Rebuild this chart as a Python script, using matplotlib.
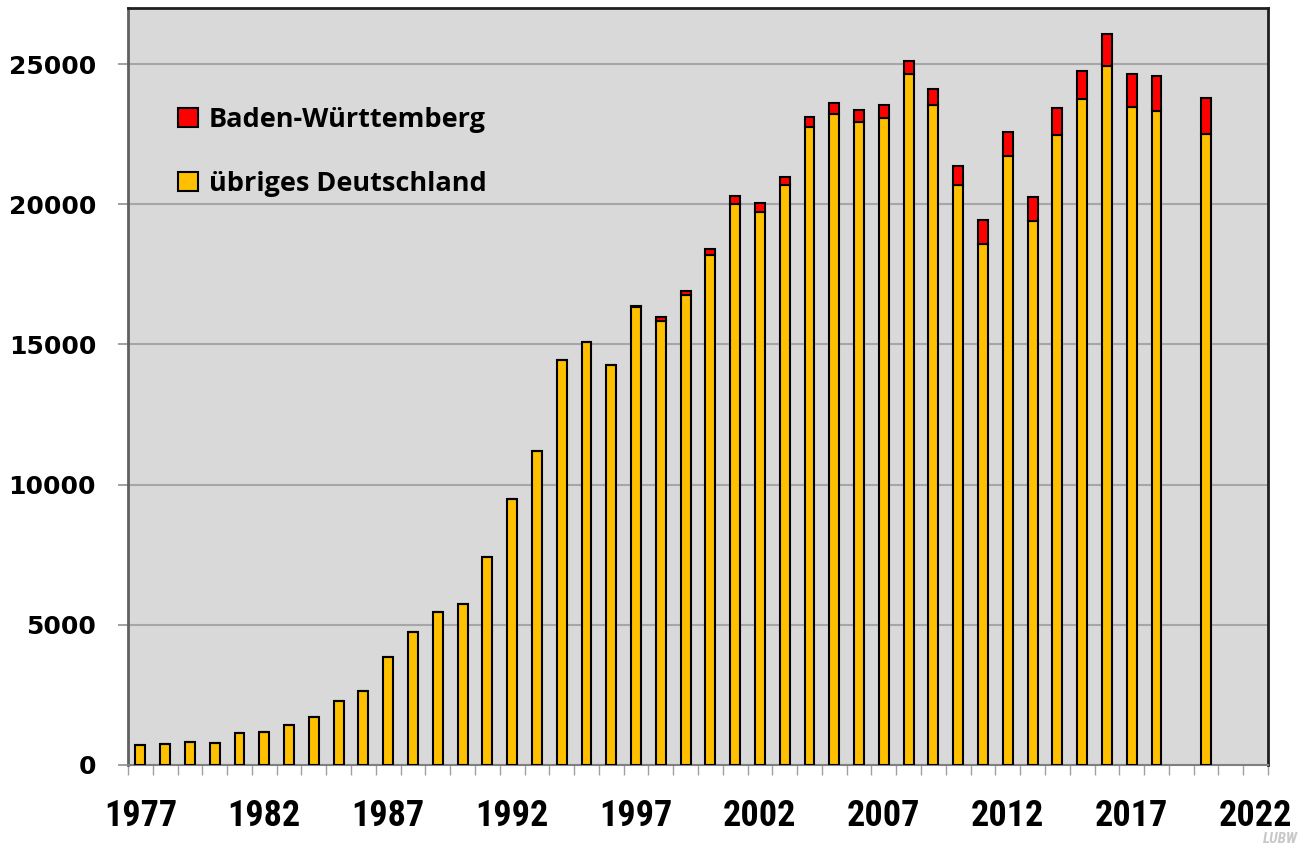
import matplotlib
matplotlib.use('Agg')
import matplotlib.pyplot as plt
from matplotlib.patches import Patch
import numpy as np

years = [1977, 1978, 1979, 1980, 1981, 1982, 1983, 1984, 1985, 1986,
         1987, 1988, 1989, 1990, 1991, 1992, 1993, 1994, 1995, 1996,
         1997, 1998, 1999, 2000, 2001, 2002, 2003, 2004, 2005, 2006,
         2007, 2008, 2009, 2010, 2011, 2012, 2013, 2014, 2015, 2016,
         2017, 2018, 2020]
# übriges Deutschland
rest = [700, 750, 810, 780, 1140, 1165, 1415, 1700, 2270, 2650,
        3850, 4730, 5450, 5740, 7430, 9500, 11210, 14450, 15080, 14250,
        16330, 15840, 16750, 18180, 20010, 19740, 20670, 22760, 23220, 22930,
        23080, 24660, 23540, 20670, 18570, 21730, 19420, 22480, 23740, 24930,
        23480, 23320, 22490]
# Baden-Württemberg
bw = [0, 0, 0, 0, 0, 0, 0, 0, 0, 0,
      0, 0, 0, 0, 0, 0, 0, 0, 0, 0,
      40, 140, 170, 240, 280, 300, 320, 360, 400, 420,
      460, 450, 580, 680, 880, 860, 840, 970, 1010, 1140,
      1160, 1240, 1300]
label_years = [1977, 1982, 1987, 1992, 1997, 2002, 2007, 2012, 2017, 2022]
y_ticks = [0, 5000, 10000, 15000, 20000, 25000]

yellow = '#FFC000'
red = '#FF0000'
narrow = ['Roboto Condensed', 'Liberation Sans Narrow', 'Liberation Sans', 'DejaVu Sans']

fig = plt.figure(figsize=(13.04, 8.48), dpi=100)
ax = fig.add_axes([128 / 1304, 1 - 765 / 848, 1140 / 1304, 757 / 848])
ax.set_facecolor('#D9D9D9')

ax.bar(years, rest, width=0.4, color=yellow, edgecolor='black', linewidth=1.5, zorder=3)
ax.bar(years, bw, width=0.4, bottom=rest, color=red, edgecolor='black', linewidth=1.5, zorder=3)

ax.set_xlim(1976.5, 2022.5)
ax.set_ylim(0, 27000)

ax.set_yticks(y_ticks)
ax.set_yticklabels([str(v) for v in y_ticks], fontsize=18, fontweight='bold', family='DejaVu Sans')
ax.tick_params(axis='y', length=7, width=1.2, color='#909090', pad=16)
ax.yaxis.grid(True, color='#A6A6A6', linewidth=1.5, zorder=0)
ax.set_axisbelow(True)

ax.set_xticks(label_years)
ax.set_xticklabels([str(y) for y in label_years], fontsize=26, fontweight='bold', family=narrow)
ax.set_xticks(np.arange(1976.5, 2023, 1), minor=True)
ax.tick_params(axis='x', which='major', length=0, pad=24)
ax.tick_params(axis='x', which='minor', length=7, width=1.0, color='#A0A0A0')

ax.spines['left'].set_color('#606060')
ax.spines['left'].set_linewidth(2)
ax.spines['bottom'].set_color('#808080')
ax.spines['bottom'].set_linewidth(1.5)
ax.spines['top'].set_color('#202020')
ax.spines['top'].set_linewidth(2)
ax.spines['right'].set_color('#202020')
ax.spines['right'].set_linewidth(2)

handles = [Patch(facecolor=red, edgecolor='black', linewidth=1.5),
           Patch(facecolor=yellow, edgecolor='black', linewidth=1.5)]
ax.legend(handles, ['Baden-Württemberg', 'übriges Deutschland'],
          loc='upper left', bbox_to_anchor=(0.032, 0.887), frameon=False,
          handlelength=0.72, handleheight=0.72, handletextpad=0.42,
          labelspacing=1.4, borderpad=0,
          prop={'family': 'Open Sans', 'weight': 'bold', 'size': 19.5})

fig.text(0.995, 0.002, 'LUBW', ha='right', va='bottom', color='#C8C8C8',
         fontsize=11, fontweight='bold', fontstyle='italic', family=narrow)

fig.savefig('out.png', dpi=100)
